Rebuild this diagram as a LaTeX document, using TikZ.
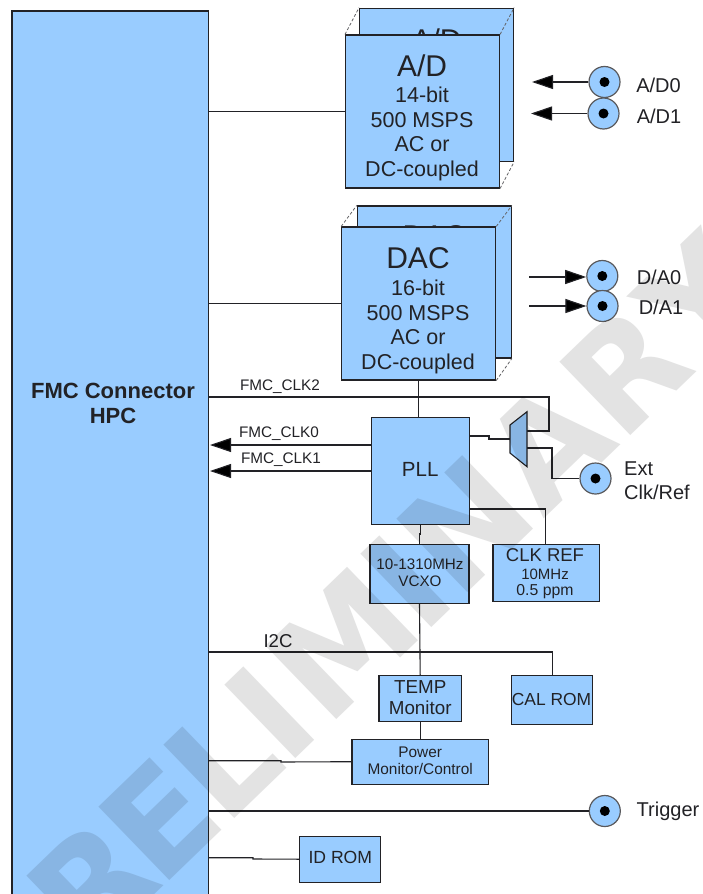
\documentclass[tikz,border=0pt]{standalone}
\usepackage{fontspec}
\setmainfont{Liberation Sans}
\newfontfamily\wmfont{DejaVu Sans}
\usetikzlibrary{arrows.meta,calc}
\definecolor{blk}{HTML}{99CCFF}
\definecolor{ink}{HTML}{222226}
\newcommand{\fs}[1]{\fontsize{#1}{#1}\selectfont}
\newcommand{\fsl}[2]{\fontsize{#1}{#2}\selectfont}
\tikzset{
  box/.style={draw=ink,fill=blk,line width=1.1pt,inner sep=0pt},
  wire/.style={draw=ink,line width=1.1pt},
  dashwire/.style={draw=ink!70,line width=0.8pt,dash pattern=on 3pt off 2pt},
  arrowed/.style={wire,-{Triangle[length=21pt,width=14pt,fill=black]}},
  txt/.style={inner sep=0pt,text=ink,align=center},
  port/.style={circle,draw=ink!75,fill=blk,line width=1.2pt,minimum size=31pt,inner sep=0pt,
    path picture={\fill[black] (path picture bounding box.center) circle (5pt);}},
}
\begin{document}
\begin{tikzpicture}[x=1pt,y=-1pt]
\useasboundingbox (0,0) rectangle (702,894);
\fill[white] (0,0) rectangle (702,894);
% main connector
\path[box] (12,11) rectangle (208.5,900);
\coordinate (fmcE) at (208.5,0);
\node[txt,font={\bfseries\fsl{22}{25}}] (fmc) at (113,403.5) {FMC Connector\\HPC};
% A/D
\node[box,minimum width=154pt,minimum height=153pt] (adb) at (436.6,84.7) {};
\node[txt,font=\fs{30}] (adbt) at (436.6,40) {A/D};
\node[box,minimum width=154pt,minimum height=153pt] (ad) at (422.5,111.5) {};
\draw[dashwire] (ad.north west) -- (adb.north west);
\draw[dashwire] (ad.north east) -- (adb.north east);
\draw[dashwire] (ad.south east) -- (adb.south east);
\node[txt,font=\fs{30}] (adt) at (422,66) {A/D};
\node[txt,font=\fsl{21.5}{24.4}] (adt2) at (422,134) {14-bit\\500 MSPS\\AC or\\DC-coupled};
\draw[wire] (fmcE |- ad.west) -- (ad.west);
\node[port] (ad0) at (604.5,82) {};
\node[port] (ad1) at (603.5,113.5) {};
\coordinate (ad0a) at (532,82);
\coordinate (ad1a) at (531,114);
\draw[arrowed] (ad0) -- (ad0a);
\draw[arrowed] (ad1) -- (ad1 -| ad1a);
\node[txt,font=\fs{20}] (ad0l) at (658.5,85) {A/D0};
\node[txt,font=\fs{20}] (ad1l) at (659,116) {A/D1};
% DAC
\node[box,minimum width=154pt,minimum height=152pt] (dab) at (434.3,282) {};
\node[txt,font=\fs{30}] (dabt) at (434.3,236) {DAC};
\node[box,minimum width=154pt,minimum height=153pt] (da) at (418.7,303.5) {};
\draw[dashwire] (da.north west) -- (dab.north west);
\draw[dashwire] (da.north east) -- (dab.north east);
\draw[dashwire] (da.south east) -- (dab.south east);
\node[txt,font=\fs{30}] (dat) at (418,258) {DAC};
\node[txt,font=\fsl{21.5}{24.4}] (dat2) at (418,327) {16-bit\\500 MSPS\\AC or\\DC-coupled};
\draw[wire] (fmcE |- da.west) -- (da.west);
\node[port] (da0) at (602.3,276) {};
\node[port] (da1) at (602.5,306) {};
\coordinate (da0a) at (529,277);
\coordinate (da1a) at (529,306);
\draw[arrowed] (da0a) -- (da0a -| da0.west);
\draw[arrowed] (da1a) -- (da1.west);
\node[txt,font=\fs{20}] (da0l) at (659,277) {D/A0};
\node[txt,font=\fs{20}] (da1l) at (661,307) {D/A1};
% PLL
\node[box,minimum width=97.7pt,minimum height=107pt] (pll) at (420.2,470.8) {};
\node[txt,font=\fs{20.5}] (pllt) at (420.2,469) {PLL};
\node[box,minimum width=99pt,minimum height=58.7pt] (vcxo) at (419.5,573.7) {};
\node[txt,font=\fsl{15.2}{17}] (vcxot) at (420,572.5) {10-1310MHz\\VCXO};
\node[box,minimum width=106.7pt,minimum height=57.4pt] (ref) at (546.3,573) {};
\node[txt,font=\fs{18.5}] (reft1) at (545,555.5) {CLK REF};
\node[txt,font=\fs{15}] (reft2) at (545,574.5) {10MHz};
\node[txt,font=\fs{15.8}] (reft3) at (545,592) {0.5 ppm};
\draw[wire] (da.south) -- (da.south |- pll.north);
\coordinate (clk2a) at (549,397);
\coordinate (clk2b) at (549,431);
\draw[wire] (fmcE |- clk2a) -- (clk2a) -- (clk2b) -- (527,431);
\node[txt,font=\fs{15.3}] (clk2l) at (280,387) {FMC\_CLK2};
\draw[arrowed] (pll.west |- 0,445) -- (210,445);
\draw[arrowed] (pll.west |- 0,471) -- (210,471);
\node[txt,font=\fs{15.3}] (clk0l) at (279,434) {FMC\_CLK0};
\node[txt,font=\fs{15.3}] (clk1l) at (281,460) {FMC\_CLK1};
% mux
\coordinate (mA) at (510,425);
\coordinate (mB) at (527,411.7);
\coordinate (mC) at (527,466.7);
\coordinate (mD) at (510,453);
\draw[wire,fill=blk] (mA) -- (mB) -- (mC) -- (mD) -- cycle;
\draw[wire] (pll.east |- 0,436) -- (489,436) -- (489,439) -- (510,439);
\node[port] (ext) at (595.5,478.5) {};
\draw[wire] (527,448) -- (552,448) -- (552,478.5) -- (ext.west);
\node[txt,font=\fsl{20}{23.5},align=left] (extl) at (657,480.5) {Ext\\Clk/Ref};
\draw[wire] (pll.south) -- (420.2,534) -- (419.5,534) -- (vcxo.north);
\draw[wire] (pll.east |- 0,509) -- (545.7,509) -- (545.7,544.3);
% lower
\node[box,minimum width=82.5pt,minimum height=46pt] (temp) at (420.2,698.7) {};
\node[txt,font=\fsl{18.8}{21}] (tempt) at (420.2,697.5) {TEMP\\Monitor};
\node[box,minimum width=81.3pt,minimum height=48.6pt] (cal) at (551.7,700) {};
\node[txt,font=\fs{17.4}] (calt) at (551.5,700) {CAL ROM};
\node[box,minimum width=136.4pt,minimum height=44.7pt] (pow) at (420.2,761.7) {};
\node[txt,font=\fsl{15.4}{16.5}] (powt) at (420.2,761) {Power\\Monitor/Control};
\node[box,minimum width=81pt,minimum height=46.3pt] (idr) at (340.3,859.2) {};
\node[txt,font=\fs{17.6}] (idt) at (340.3,857.5) {ID ROM};
\draw[wire] (vcxo.south) -- (temp.north);
\draw[wire] (temp.south) -- (temp.south |- pow.north);
\coordinate (i2cb) at (552.4,652);
\draw[wire] (fmcE |- i2cb) -- (i2cb) -- (i2cb |- cal.north);
\node[txt,font=\fs{18.6}] (i2cl) at (278,641) {I2C};
\draw[wire] (fmcE |- 0,760.7) -- (281,760.7) -- (281,762) -- (pow.west);
\node[port] (trg) at (604.8,811) {};
\draw[wire] (fmcE |- trg.west) -- (trg.west);
\node[txt,font=\fs{20}] (trgl) at (668,811) {Trigger};
\draw[wire] (fmcE |- 0,857.7) -- (253,857.7) -- (253,859) -- (idr.west);
% watermark
\begin{scope}[blend mode=multiply]
\node[inner sep=0pt,text=black!11,rotate=44,anchor=base west,font={\wmfont\bfseries\fs{140}}] (wm) at (88.6,958.8)
  {R\kern-8pt E\kern-6pt L\kern-4pt I\kern5pt M\kern-7pt I\kern-2pt N\kern0.5pt A\kern0.5pt R\kern0pt Y};
\end{scope}
\end{tikzpicture}
\end{document}
